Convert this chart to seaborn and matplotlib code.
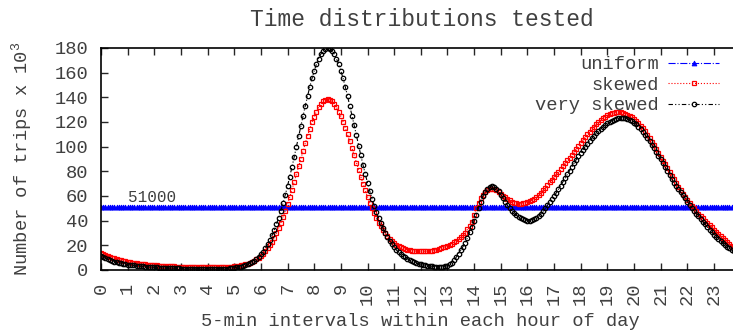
import numpy as np
import matplotlib
matplotlib.use("Agg")
import matplotlib.pyplot as plt
import seaborn as sns

sns.set_style("ticks")
plt.rcParams['font.family'] = ['Liberation Mono', 'DejaVu Sans']
plt.rcParams['mathtext.fontset'] = 'custom'
plt.rcParams['mathtext.rm'] = 'Liberation Mono'

# one value per 5-min slot (12 per hour), thousands of trips
hour_labels = [str(h) for h in range(24)]
y_ticks = [0, 20, 40, 60, 80, 100, 120, 140, 160, 180]
uniform_level = 51.0
uniform_note = "51000"

skewed = [
    14.0, 13.1, 12.3, 11.5, 10.8, 10.1, 9.5, 8.9, 8.3, 7.8, 7.3, 6.9,
    6.5, 6.2, 5.9, 5.6, 5.4, 5.1, 4.9, 4.7, 4.5, 4.3, 4.1, 3.9,
    3.8, 3.7, 3.6, 3.5, 3.4, 3.3, 3.2, 3.1, 3.0, 2.9, 2.8, 2.75,
    2.7, 2.65, 2.6, 2.55, 2.5, 2.4, 2.35, 2.3, 2.25, 2.2, 2.15, 2.1,
    2.1, 2.1, 2.1, 2.1, 2.1, 2.1, 2.15, 2.2, 2.3, 2.4, 2.5, 2.7,
    3.1, 3.2, 3.5, 3.8, 4.1, 4.6, 5.1, 5.8, 6.5, 7.5, 8.6, 9.9,
    11.4, 13.1, 15.1, 17.5, 20.0, 22.9, 26.3, 29.9, 33.9, 38.3, 43.1, 48.1,
    53.5, 59.2, 65.2, 71.4, 77.6, 84.0, 90.4, 96.8, 102.9, 108.9, 114.5, 119.7,
    124.4, 128.5, 132.0, 134.8, 136.8, 138.0, 138.4, 138.0, 136.8, 134.8, 132.0, 128.5,
    124.5, 120.1, 115.2, 110.0, 104.6, 98.9, 93.0, 87.1, 81.2, 75.5, 69.9, 64.5,
    59.4, 54.6, 50.2, 45.9, 42.0, 38.5, 35.4, 32.4, 29.8, 27.5, 25.3, 23.5,
    22.0, 20.6, 19.4, 18.4, 17.5, 16.9, 16.3, 15.9, 15.6, 15.4, 15.3, 15.2,
    15.2, 15.1, 15.1, 15.2, 15.4, 15.7, 16.1, 16.6, 17.1, 17.7, 18.3, 19.0,
    19.7, 20.5, 21.4, 22.4, 23.6, 25.0, 26.5, 28.3, 30.4, 33.0, 36.0, 39.2,
    44.5, 50.0, 54.5, 58.0, 60.8, 63.0, 64.8, 65.8, 66.0, 65.5, 64.5, 63.2,
    61.8, 60.3, 58.9, 57.6, 56.4, 55.4, 54.6, 54.0, 53.7, 53.7, 54.0, 54.5,
    55.2, 55.8, 56.6, 57.5, 58.8, 60.5, 62.5, 64.5, 66.6, 68.8, 71.0, 73.1,
    75.3, 77.5, 79.7, 82.0, 84.3, 86.6, 88.9, 91.2, 93.5, 95.8, 98.1, 100.6,
    103.0, 105.3, 107.6, 109.9, 112.1, 114.2, 116.2, 118.1, 119.9, 121.5, 123.0, 124.3,
    125.4, 126.3, 127.0, 127.5, 127.8, 127.9, 127.8, 127.4, 126.8, 126.0, 125.0, 123.8,
    122.4, 120.8, 119.0, 117.0, 114.8, 112.4, 109.8, 107.0, 104.1, 101.1, 98.0, 94.8,
    91.8, 88.7, 85.6, 82.5, 79.4, 76.4, 73.4, 70.4, 67.5, 64.6, 61.8, 59.1,
    56.5, 54.2, 52.0, 49.9, 47.8, 45.8, 43.8, 41.9, 40.0, 38.2, 36.4, 34.7,
    32.6, 30.7, 28.9, 27.2, 25.6, 24.0, 22.5, 21.1, 19.8, 18.6, 17.5, 16.5,
]

very_skewed = [
    11.0, 10.2, 9.4, 8.7, 8.0, 7.4, 6.8, 6.3, 5.8, 5.3, 4.9, 4.6,
    4.3, 4.1, 3.9, 3.7, 3.5, 3.3, 3.1, 2.9, 2.8, 2.6, 2.5, 2.3,
    2.2, 2.1, 2.0, 1.9, 1.8, 1.7, 1.6, 1.5, 1.5, 1.4, 1.3, 1.3,
    1.2, 1.2, 1.1, 1.1, 1.0, 1.0, 0.9, 0.9, 0.9, 0.8, 0.8, 0.8,
    0.8, 0.8, 0.8, 0.8, 0.9, 0.9, 1.0, 1.0, 1.1, 1.2, 1.4, 1.6,
    1.9, 2.1, 2.4, 2.8, 3.3, 3.9, 4.6, 5.4, 6.5, 7.7, 9.1, 10.8,
    12.7, 14.9, 17.7, 20.7, 24.2, 28.0, 32.3, 37.1, 42.4, 48.2, 54.4, 61.1,
    68.2, 75.7, 83.5, 91.7, 99.9, 108.4, 116.8, 125.1, 133.3, 141.1, 148.5, 155.3,
    161.5, 166.9, 171.4, 175.1, 177.8, 179.4, 179.9, 179.4, 177.8, 175.1, 171.4, 166.9,
    161.5, 155.3, 148.5, 141.1, 133.3, 125.1, 117.3, 109.1, 100.8, 92.9, 85.0, 77.7,
    70.7, 64.1, 57.9, 52.2, 46.9, 42.1, 37.8, 33.8, 30.2, 26.7, 23.7, 20.9,
    18.3, 16.2, 14.4, 12.8, 11.4, 10.2, 9.2, 8.2, 7.3, 6.5, 5.8, 5.2,
    4.7, 4.2, 3.8, 3.5, 3.2, 3.0, 2.8, 2.7, 2.6, 2.6, 2.7, 3.0,
    3.5, 4.6, 6.0, 8.0, 10.5, 13.3, 16.0, 19.0, 22.0, 26.0, 30.5, 35.0,
    40.0, 45.0, 50.5, 55.5, 60.0, 63.5, 66.0, 67.5, 68.0, 67.5, 66.0, 63.8,
    61.0, 58.2, 55.3, 52.5, 50.0, 47.9, 46.0, 44.4, 43.0, 41.9, 41.0, 40.4,
    40.0, 40.0, 40.3, 41.0, 42.0, 43.5, 45.5, 47.5, 50.0, 52.5, 55.0, 57.5,
    60.0, 62.5, 65.5, 68.5, 71.5, 74.5, 77.5, 80.5, 83.5, 86.5, 89.5, 92.3,
    95.0, 97.5, 100.0, 102.5, 104.8, 107.0, 109.0, 111.0, 112.8, 114.5, 116.0, 117.5,
    118.8, 120.0, 121.0, 121.9, 122.6, 123.1, 123.4, 123.5, 123.3, 122.8, 122.0, 120.9,
    119.5, 118.0, 116.2, 114.2, 112.0, 109.5, 107.0, 104.3, 101.5, 98.6, 95.6, 92.6,
    89.7, 86.6, 83.4, 80.2, 77.1, 73.9, 70.8, 68.2, 65.6, 63.1, 60.5, 58.0,
    55.4, 53.0, 50.6, 48.2, 45.8, 43.4, 41.1, 39.0, 36.9, 34.8, 32.8, 30.6,
    28.6, 27.0, 25.3, 23.7, 22.1, 20.5, 19.0, 17.6, 16.3, 15.1, 14.0, 13.0,
]

slots = np.arange(len(skewed))
uniform = np.full(len(slots), uniform_level)
text_color = '#404040'

fig = plt.figure(figsize=(7.33, 3.31), dpi=100)
# right border of the frame falls outside the image, like the original crop
ax = fig.add_axes([101 / 733, 61 / 331, 639.6 / 733, 222 / 331])

sns.lineplot(x=slots, y=uniform, ax=ax, color='#0000ff', linestyle='-.', linewidth=0.8,
             marker='^', markersize=3.5, markerfacecolor='#0000ff',
             markeredgecolor='#0000ff', markeredgewidth=0.6, label='uniform')
sns.lineplot(x=slots, y=skewed, ax=ax, color='#ff0000', linestyle=':', linewidth=0.8,
             marker='s', markersize=3.5, markerfacecolor='none',
             markeredgecolor='#ff0000', markeredgewidth=0.9, label='skewed')
sns.lineplot(x=slots, y=very_skewed, ax=ax, color='#000000',
             linestyle=(0, (4, 2, 1, 2, 1, 2)), linewidth=0.8,
             marker='o', markersize=3.2, markerfacecolor='none',
             markeredgecolor='#000000', markeredgewidth=0.9, label='very skewed')

ax.text(12.2, 52.3, uniform_note, fontsize=11.5, color=text_color, ha='left', va='bottom')

ax.set_xlim(0, 288)
ax.set_ylim(0, 180)
ax.set_xticks(np.arange(len(hour_labels)) * 12)
ax.set_xticklabels(hour_labels, rotation=90)
ax.set_yticks(y_ticks)
ax.tick_params(direction='in', length=5, width=1, top=True, right=True,
               labelsize=13.5, labelcolor=text_color, pad=9)
for side in ['left', 'bottom', 'top', 'right']:
    ax.spines[side].set_linewidth(1.2)
    ax.spines[side].set_color('black')

ax.set_xlabel('5-min intervals within each hour of day', fontsize=13.5, color=text_color)
ax.xaxis.set_label_coords(0.5, -0.195)
ax.set_ylabel(r'Number of trips x 10$^{3}$', fontsize=13.5, color=text_color)
ax.yaxis.set_label_coords(-0.103, 0.5)

fig.text(422 / 733, 1 - 26 / 331, 'Time distributions tested', ha='center',
         va='baseline', fontsize=16.5, color=text_color)

leg = ax.legend(loc='upper right', bbox_to_anchor=(719 / 733, 1 - 56 / 331),
                bbox_transform=fig.transFigure, frameon=False, markerfirst=False,
                handlelength=2.7, handletextpad=0.5, labelspacing=0.18,
                borderpad=0, borderaxespad=0, fontsize=13.5, numpoints=1,
                labelcolor=text_color)
leg._legend_box.align = 'right'

fig.savefig('out.png', dpi=100)
